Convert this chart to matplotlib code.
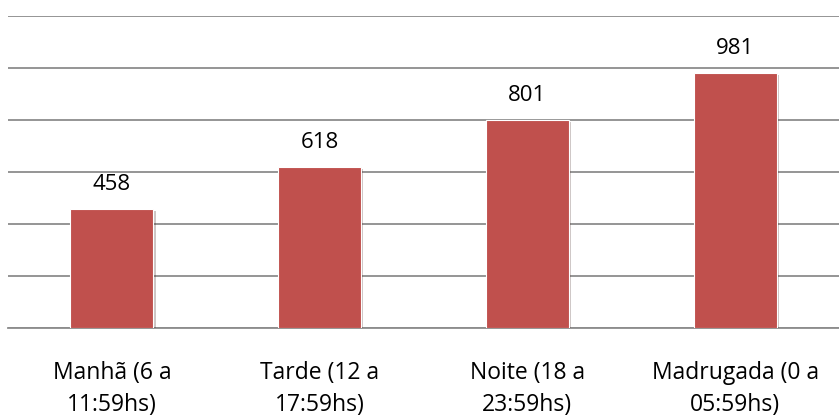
import numpy as np
import matplotlib.pyplot as plt
import matplotlib.patheffects as pe

plt.rcParams['font.family'] = ['Open Sans', 'DejaVu Sans']

categorias = ["Manhã (6 a\n11:59hs)", "Tarde (12 a\n17:59hs)",
              "Noite (18 a\n23:59hs)", "Madrugada (0 a\n05:59hs)"]
valores = [458, 618, 801, 981]

fig = plt.figure(figsize=(8.39, 4.18), dpi=100)
ax = fig.add_axes([8 / 839, 1 - 328 / 418, 1 - 8 / 839, (328 - 16) / 418])

x = np.arange(len(categorias))
bars = ax.bar(x, valores, width=0.4, color="#C0504D", edgecolor="white",
              linewidth=0.8, zorder=3,
              path_effects=[pe.SimplePatchShadow(offset=(1.5, -1.5), alpha=0.25),
                            pe.Normal()])

# rótulos de valor sobre as barras
for b, v in zip(bars, valores):
    ax.text(b.get_x() + b.get_width() / 2, v + 73, str(v),
            ha="center", va="baseline", fontsize=16, color="black")

ax.set_ylim(0, 1200)
ax.set_xlim(-0.5, len(categorias) - 0.5)
ax.set_yticks(np.arange(0, 1201, 200))
ax.yaxis.grid(True, color="#8c8c8c", linewidth=1.3, zorder=0)
ax.set_yticklabels([])
ax.tick_params(axis="y", length=0)
ax.tick_params(axis="x", length=0, pad=24)
ax.set_xticks(x)
ax.set_xticklabels(categorias, fontsize=16.5, linespacing=1.4)
for s in ["top", "right", "left"]:
    ax.spines[s].set_visible(False)
ax.spines["bottom"].set_color("#8c8c8c")
ax.spines["bottom"].set_linewidth(1.3)

fig.savefig("out.png", dpi=100)
